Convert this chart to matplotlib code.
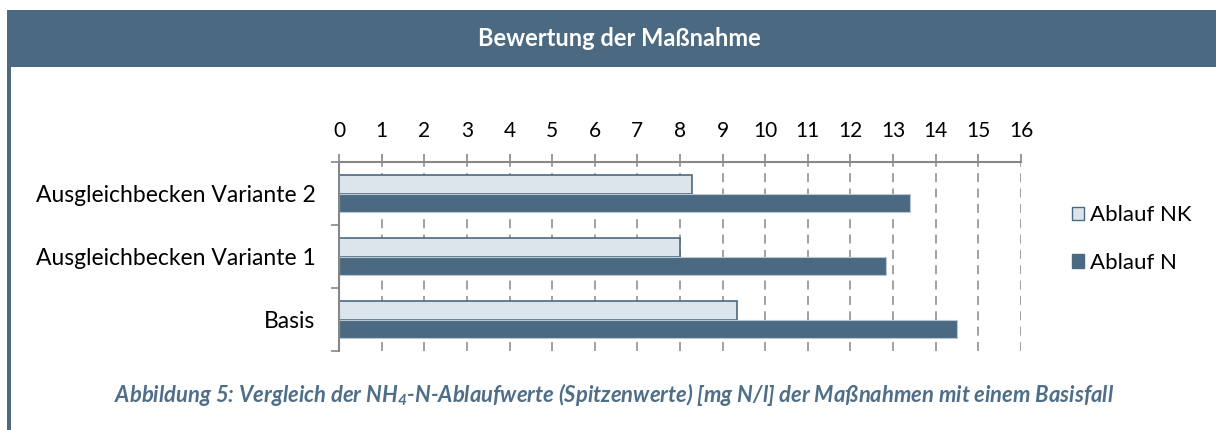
import matplotlib
matplotlib.use("Agg")
import matplotlib.pyplot as plt
from matplotlib.patches import Rectangle, Patch
from matplotlib.ticker import FixedLocator
import numpy as np

# Data
categories = ["Basis", "Ausgleichbecken Variante 1", "Ausgleichbecken Variante 2"]
ablauf_nk = [9.33, 8.0, 8.27]
ablauf_n = [14.5, 12.84, 13.4]
series_labels = ["Ablauf NK", "Ablauf N"]
x_ticks = list(range(0, 17))
title_text = "Bewertung der Maßnahme"
caption_text = (r"Abbildung 5: Vergleich der NH$_4$-N-Ablaufwerte (Spitzenwerte) "
                r"[mg N/l] der Maßnahmen mit einem Basisfall")

DARK = "#4b6a81"
LIGHT = "#dce4ec"
GRID = "#9a9a9a"
AXIS = "#878787"
FONT = "Lato"

plt.rcParams["mathtext.fontset"] = "custom"
plt.rcParams["mathtext.rm"] = "Lato:italic:bold"
plt.rcParams["mathtext.it"] = "Lato:italic:bold"

W, H = 1216, 430
fig = plt.figure(figsize=(W / 100, H / 100), dpi=100)
fig.patch.set_facecolor("white")

# Header band and left frame line
fig.patches.append(Rectangle((7 / W, 1 - 67 / H), 1 - 7 / W, 57 / H,
                             transform=fig.transFigure, facecolor=DARK,
                             edgecolor="none", zorder=0))
fig.patches.append(Rectangle((7 / W, 0), 4 / W, 1 - 10 / H,
                             transform=fig.transFigure, facecolor=DARK,
                             edgecolor="none", zorder=0))
fig.text(619 / W, 1 - 39 / H, title_text, color="white", fontsize=17,
         fontweight="bold", family=FONT, ha="center", va="center")

# Chart area
ax = fig.add_axes([339 / W, (H - 351) / H, 682 / W, 189 / H])
y = np.arange(len(categories))
h = 0.297
ax.barh(y + h / 2, ablauf_nk, height=h, color=LIGHT, edgecolor=DARK,
        linewidth=1.2, label=series_labels[0], zorder=2)
ax.barh(y - h / 2, ablauf_n, height=h, color=DARK, edgecolor="#b9c7d3",
        linewidth=0.8, label=series_labels[1], zorder=2)

ax.set_xlim(0, 16)
ax.set_ylim(-0.5, len(categories) - 0.5)
ax.xaxis.set_major_locator(FixedLocator(x_ticks))
ax.xaxis.tick_top()
ax.tick_params(axis="x", which="major", direction="out", length=6,
               width=1.2, color=AXIS, pad=9, labelsize=15)
for lbl in ax.get_xticklabels():
    lbl.set_family(FONT)

ax.set_yticks(y)
ax.set_yticklabels(categories, family=FONT, fontsize=16.5)
ax.yaxis.set_minor_locator(FixedLocator(np.arange(-0.5, len(categories), 1.0)))
ax.tick_params(axis="y", which="major", length=0, pad=17)
ax.tick_params(axis="y", which="minor", length=6, width=1.2, color=AXIS)

for s in ("right", "bottom"):
    ax.spines[s].set_visible(False)
for s in ("top", "left"):
    ax.spines[s].set_color(AXIS)
    ax.spines[s].set_linewidth(1.5)

ax.set_axisbelow(True)
ax.grid(axis="x", color=GRID, linestyle=(0, (5, 3.5)), linewidth=1.3)
ax.set_facecolor("none")

# Legend
handles = [Patch(facecolor=LIGHT, edgecolor=DARK, linewidth=1.0),
           Patch(facecolor=DARK, edgecolor=DARK, linewidth=1.0)]
fig.legend(handles, series_labels, loc="center left",
           bbox_to_anchor=(1052 / W, 1 - 239 / H), frameon=False,
           prop={"family": FONT, "size": 16}, handlelength=0.55,
           handleheight=0.55, handletextpad=0.25, labelspacing=1.25)

fig.text(614 / W, 1 - 395 / H, caption_text, color="#4f6e88", fontsize=15.8,
         fontweight="bold", style="italic", family=FONT,
         ha="center", va="center")

fig.savefig("out.png", dpi=100, facecolor="white")
